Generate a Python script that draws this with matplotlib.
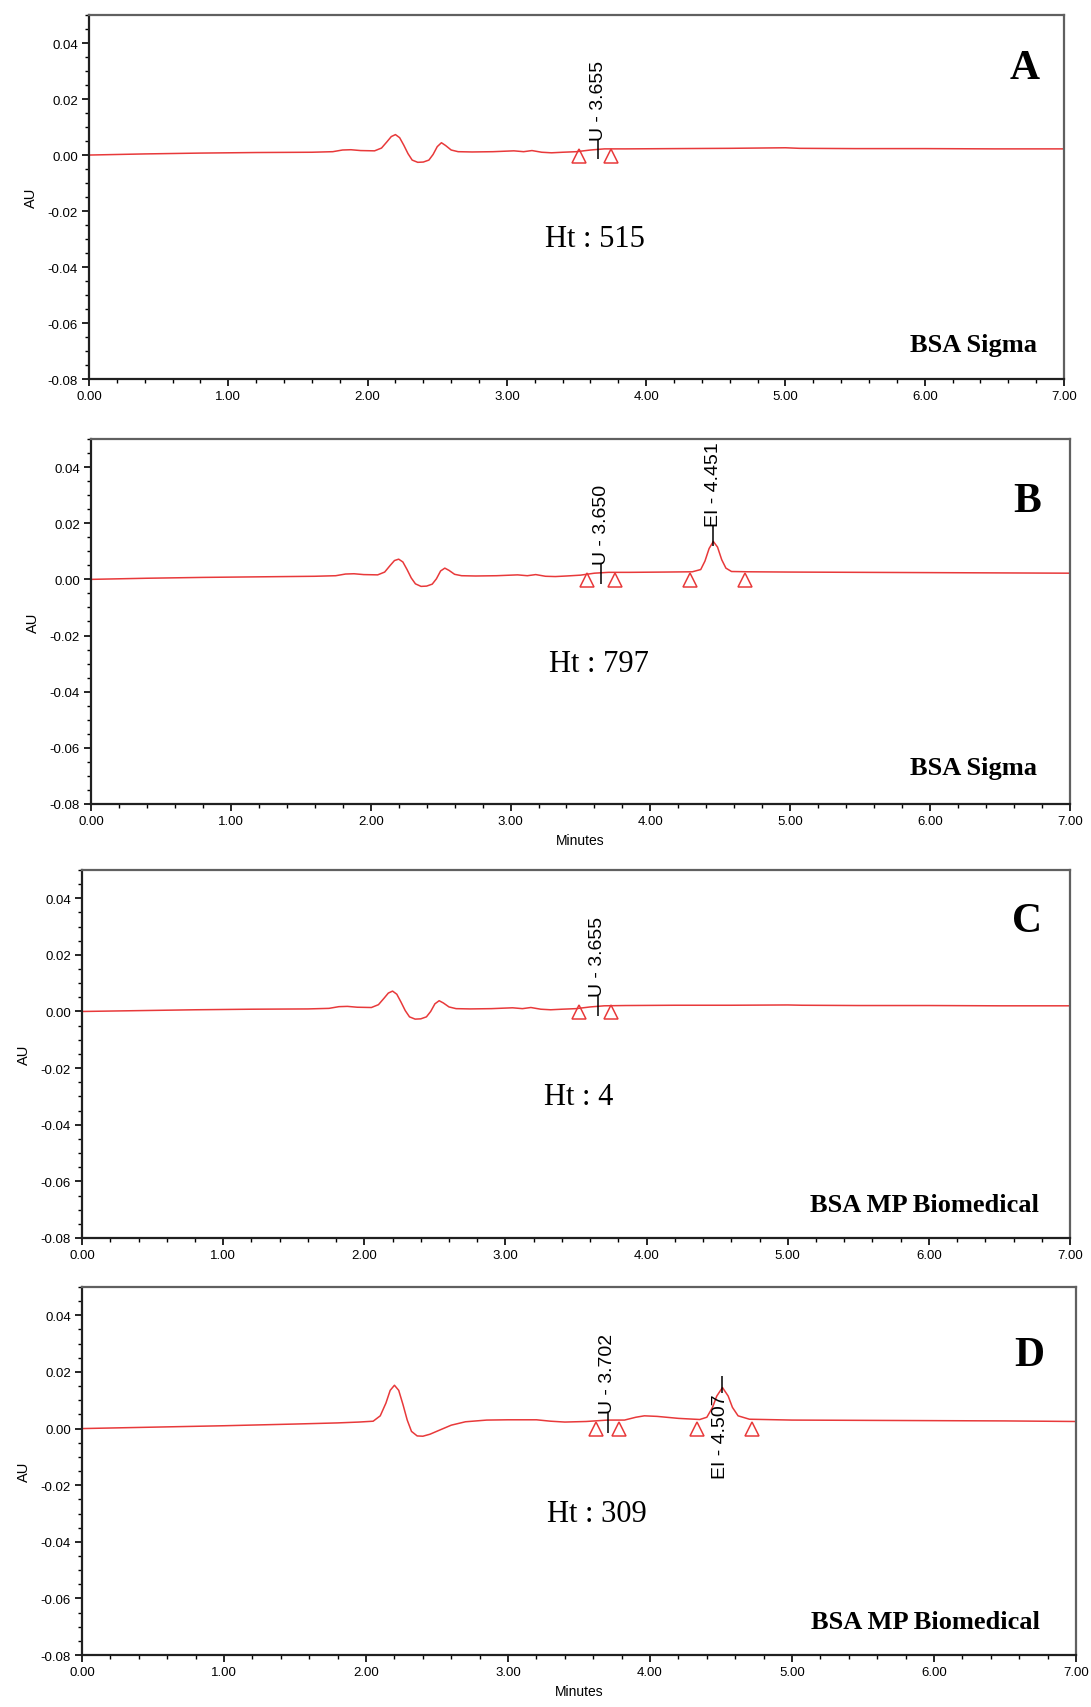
import matplotlib
matplotlib.use("Agg")
import matplotlib.pyplot as plt
from matplotlib.ticker import MultipleLocator, FormatStrFormatter

# ---- data (time in minutes, absorbance in AU) ----
t_a = [0.0, 0.4, 0.8, 1.2, 1.6, 1.75, 1.82, 1.88, 1.95, 2.05, 2.10, 2.14, 2.17, 2.20, 2.23,
       2.26, 2.29, 2.32, 2.36, 2.40, 2.44, 2.47, 2.50, 2.53, 2.56, 2.60, 2.65, 2.75, 2.90,
       3.05, 3.12, 3.18, 3.25, 3.32, 3.40, 3.50, 3.60, 3.70, 3.85, 4.20, 4.60, 5.00, 5.10,
       5.50, 6.00, 6.50, 7.00]
au_a = [0.0, 0.0004, 0.0007, 0.0009, 0.0010, 0.0012, 0.0018, 0.0019, 0.0016, 0.0015, 0.0025,
        0.0048, 0.0066, 0.0073, 0.0062, 0.0035, 0.0005, -0.0018, -0.0026, -0.0025, -0.0018,
        0.0002, 0.0030, 0.0044, 0.0034, 0.0018, 0.0012, 0.0011, 0.0012, 0.0015, 0.0012,
        0.0016, 0.0010, 0.0008, 0.0010, 0.0012, 0.0018, 0.0022, 0.0022, 0.0023, 0.0024,
        0.0026, 0.0024, 0.0023, 0.0023, 0.0022, 0.0022]

t_b = [0.0, 0.4, 0.8, 1.2, 1.6, 1.75, 1.82, 1.88, 1.95, 2.05, 2.10, 2.14, 2.17, 2.20, 2.23,
       2.26, 2.29, 2.32, 2.36, 2.40, 2.44, 2.47, 2.50, 2.53, 2.56, 2.60, 2.65, 2.75, 2.90,
       3.05, 3.12, 3.18, 3.25, 3.32, 3.40, 3.50, 3.60, 3.70, 3.85, 4.10, 4.30, 4.36, 4.39,
       4.42, 4.45, 4.48, 4.51, 4.54, 4.58, 4.70, 5.00, 5.50, 6.00, 6.50, 7.00]
au_b = [0.0, 0.0004, 0.0007, 0.0009, 0.0011, 0.0013, 0.0019, 0.0020, 0.0017, 0.0016, 0.0026,
        0.0050, 0.0067, 0.0072, 0.0062, 0.0035, 0.0005, -0.0016, -0.0025, -0.0024, -0.0017,
        0.0002, 0.0030, 0.0040, 0.0032, 0.0018, 0.0013, 0.0012, 0.0013, 0.0016, 0.0013,
        0.0017, 0.0011, 0.0010, 0.0012, 0.0015, 0.0022, 0.0025, 0.0025, 0.0026, 0.0027,
        0.0035, 0.0065, 0.0110, 0.0135, 0.0115, 0.0070, 0.0040, 0.0028, 0.0027, 0.0026,
        0.0025, 0.0024, 0.0023, 0.0022]

t_c = [0.0, 0.4, 0.8, 1.2, 1.6, 1.75, 1.82, 1.88, 1.95, 2.05, 2.10, 2.14, 2.17, 2.20, 2.23,
       2.26, 2.29, 2.32, 2.36, 2.40, 2.44, 2.47, 2.50, 2.53, 2.56, 2.60, 2.65, 2.75, 2.90,
       3.05, 3.12, 3.18, 3.25, 3.32, 3.40, 3.50, 3.60, 3.70, 3.85, 4.20, 4.60, 5.00, 5.10,
       5.50, 6.00, 6.50, 7.00]
au_c = [0.0, 0.0003, 0.0006, 0.0008, 0.0009, 0.0011, 0.0017, 0.0018, 0.0015, 0.0014, 0.0024,
        0.0047, 0.0065, 0.0072, 0.0061, 0.0033, 0.0003, -0.0019, -0.0027, -0.0026, -0.0019,
        0.0000, 0.0027, 0.0038, 0.0030, 0.0016, 0.0010, 0.0009, 0.0010, 0.0013, 0.0010,
        0.0014, 0.0008, 0.0006, 0.0008, 0.0010, 0.0016, 0.0020, 0.0021, 0.0022, 0.0022,
        0.0023, 0.0022, 0.0021, 0.0021, 0.0020, 0.0020]

t_d = [0.0, 0.5, 1.0, 1.5, 1.8, 1.95, 2.05, 2.10, 2.14, 2.17, 2.20, 2.23, 2.26, 2.29, 2.32,
       2.36, 2.40, 2.45, 2.52, 2.60, 2.70, 2.85, 3.00, 3.20, 3.30, 3.40, 3.55, 3.70, 3.82,
       3.90, 3.96, 4.05, 4.20, 4.35, 4.40, 4.44, 4.47, 4.51, 4.55, 4.58, 4.62, 4.70, 5.00,
       5.50, 6.00, 6.50, 7.00]
au_d = [0.0, 0.0005, 0.0010, 0.0016, 0.0020, 0.0023, 0.0026, 0.0045, 0.0090, 0.0135, 0.0153,
        0.0135, 0.0085, 0.0030, -0.0010, -0.0026, -0.0027, -0.0020, -0.0005, 0.0012, 0.0024,
        0.0030, 0.0031, 0.0031, 0.0026, 0.0023, 0.0025, 0.0030, 0.0030, 0.0040, 0.0045,
        0.0043, 0.0036, 0.0032, 0.0040, 0.0075, 0.0115, 0.0145, 0.0115, 0.0075, 0.0045,
        0.0033, 0.0030, 0.0029, 0.0028, 0.0027, 0.0025]

# integration markers (triangles) and labelled peaks
tri_a = [3.52, 3.75]
tri_b = [3.55, 3.75, 4.28, 4.68]
tri_c = [3.52, 3.75]
tri_d = [3.62, 3.78, 4.33, 4.72]

peaks_a = [("U - 3.655", 3.655, 0.0)]
peaks_b = [("U - 3.650", 3.650, 0.0), ("EI - 4.451", 4.451, 0.0135)]
peaks_c = [("U - 3.655", 3.655, 0.0)]
peaks_d = [("U - 3.702", 3.702, 0.0)]

panel_letters = ["A", "B", "C", "D"]
sample_names = ["BSA Sigma", "BSA Sigma", "BSA MP Biomedical", "BSA MP Biomedical"]
heights = ["Ht : 515", "Ht : 797", "Ht : 4", "Ht : 309"]

# axes boxes in figure fraction [left, bottom, width, height]
boxes = [[0.0816, 0.7775, 0.8937, 0.2131],
         [0.0834, 0.5287, 0.8973, 0.2137],
         [0.0752, 0.2746, 0.9056, 0.2155],
         [0.0752, 0.0304, 0.9111, 0.2155]]
letter_pos = [(0.975, 0.855), (0.970, 0.830), (0.972, 0.860), (0.968, 0.815)]
name_pos = [(0.972, 0.096), (0.966, 0.101), (0.968, 0.092), (0.964, 0.090)]

red = "#e8393a"
sans = ["Liberation Sans", "DejaVu Sans"]
serif = ["Liberation Serif", "DejaVu Serif"]

fig = plt.figure(figsize=(10.91, 17.08), dpi=100)

series = [(t_a, au_a, tri_a, peaks_a), (t_b, au_b, tri_b, peaks_b),
          (t_c, au_c, tri_c, peaks_c), (t_d, au_d, tri_d, peaks_d)]

for i, (t, au, tri, peaks) in enumerate(series):
    ax = fig.add_axes(boxes[i])
    ax.plot(t, au, color=red, linewidth=1.1)
    ax.plot(tri, [-0.0003] * len(tri), linestyle="none", marker="^", markersize=10,
            markerfacecolor="none", markeredgecolor=red, markeredgewidth=1.1)

    for label, x, y0 in peaks:
        ax.vlines(x, y0 - 0.0015, y0 + 0.0055, color="black", linewidth=1.1)
        ax.text(x, y0 + 0.0055, label, rotation=90, ha="center", va="bottom",
                fontsize=14, family=sans)
    if i == 3:
        # the EI peak label of panel D hangs below the trace
        ax.vlines(4.507, 0.0125, 0.0185, color="black", linewidth=1.1)
        ax.text(4.495, 0.0125, "EI - 4.507", rotation=90, ha="center", va="top",
                fontsize=14, family=sans)

    ax.set_xlim(0, 7)
    ax.set_ylim(-0.08, 0.05)
    ax.xaxis.set_major_locator(MultipleLocator(1))
    ax.xaxis.set_minor_locator(MultipleLocator(0.2))
    ax.yaxis.set_major_locator(MultipleLocator(0.02))
    ax.yaxis.set_minor_locator(MultipleLocator(0.005))
    ax.xaxis.set_major_formatter(FormatStrFormatter("%.2f"))
    ax.yaxis.set_major_formatter(FormatStrFormatter("%.2f"))
    ax.tick_params(which="major", direction="out", length=5, width=1.2,
                   labelsize=9.5, pad=3)
    ax.tick_params(which="minor", direction="out", length=3, width=1.0)
    for lab in ax.get_xticklabels() + ax.get_yticklabels():
        lab.set_family(sans)

    for side in ["top", "right"]:
        ax.spines[side].set_color("#606060")
        ax.spines[side].set_linewidth(1.6)
    for side in ["left", "bottom"]:
        ax.spines[side].set_color("#202020")
        ax.spines[side].set_linewidth(1.6)

    ax.set_ylabel("AU", fontsize=10.5, family=sans, labelpad=7)
    if i in (1, 3):
        ax.set_xlabel("Minutes", fontsize=10, family=sans, labelpad=4)

    ax.text(letter_pos[i][0], letter_pos[i][1], panel_letters[i], transform=ax.transAxes,
            ha="right", va="center", fontsize=30, fontweight="bold", family=serif)
    ax.text(name_pos[i][0], name_pos[i][1], sample_names[i], transform=ax.transAxes,
            ha="right", va="center", fontsize=19, fontweight="bold", family=serif)
    ax.text(0.468, 0.385, heights[i], transform=ax.transAxes,
            ha="left", va="center", fontsize=22, family=serif)

fig.savefig("out.png", dpi=100)
